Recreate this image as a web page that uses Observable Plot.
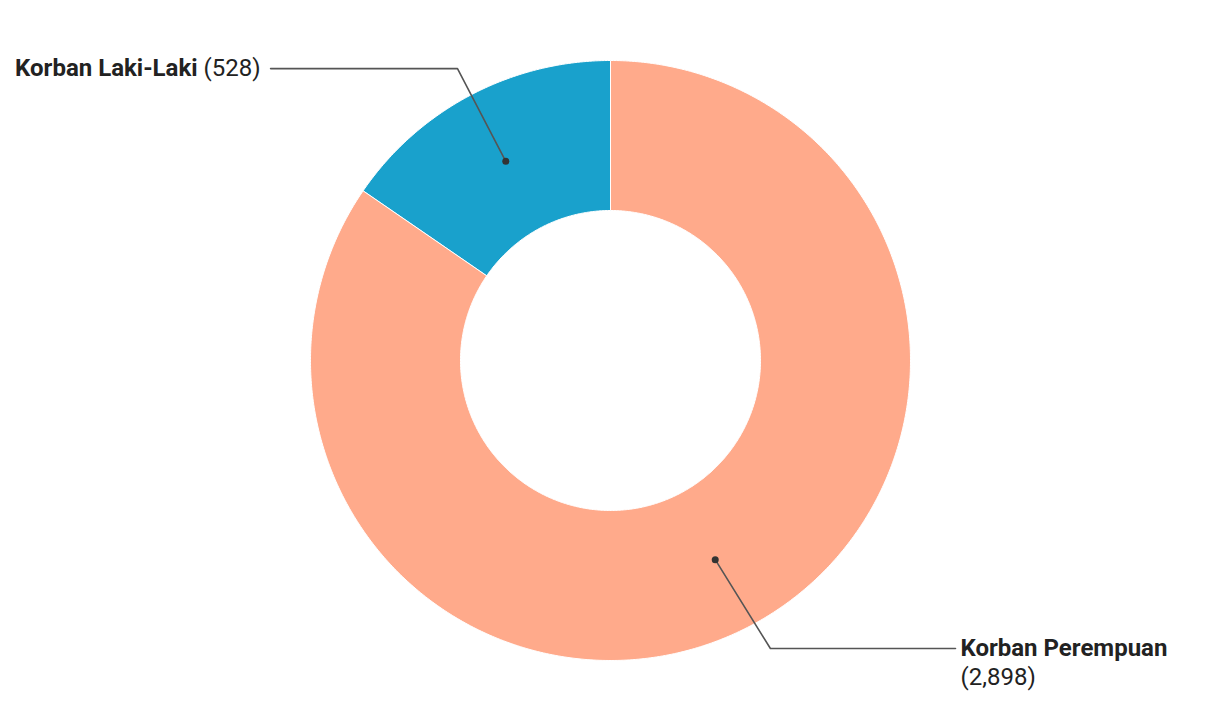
<!DOCTYPE html>
<html>
<head>
<meta charset="utf-8">
<script src="https://cdn.jsdelivr.net/npm/d3@7"></script>
<script src="https://cdn.jsdelivr.net/npm/@observablehq/plot@0.6"></script>
<style>
  html, body { margin: 0; padding: 0; background: #fff; }
  #chart svg { display: block; font-family: Roboto, sans-serif; }
</style>
</head>
<body>
<div id="chart"></div>
<script>
// ---- data ----
const categories = ["Korban Perempuan", "Korban Laki-Laki"];
const values = [2898, 528];
const valueLabels = ["(2,898)", "(528)"];
const colors = ["#FFAA8B", "#19A1CC"];

// ---- geometry (unit-circle coordinates, y up) ----
const innerR = 0.5, outerR = 1, midR = 0.75;
const pie = d3.pie().sort(null).value(d => d.value);
const arcs = pie(categories.map((c, i) => ({category: c, value: values[i], color: colors[i], label: valueLabels[i]})));

const pt = (a, r) => [Math.sin(a) * r, Math.cos(a) * r];
function ring(a0, a1) {
  const n = Math.max(2, Math.ceil((a1 - a0) / 0.01));
  const pts = [];
  for (let k = 0; k <= n; k++) pts.push(pt(a0 + (a1 - a0) * k / n, outerR));
  for (let k = n; k >= 0; k--) pts.push(pt(a0 + (a1 - a0) * k / n, innerR));
  return pts;
}

const fontSize = 24;
const font = `${fontSize}px Roboto`;
const ctx = document.createElement("canvas").getContext("2d");
function textWidth(s, weight) { ctx.font = `${weight} ${font}`; return ctx.measureText(s).width; }

const marks = [];
arcs.forEach(a => {
  marks.push(Plot.line(ring(a.startAngle, a.endAngle), {
    x: d => d[0], y: d => d[1], curve: "linear-closed",
    fill: a.data.color, stroke: "#fff", strokeWidth: 1, strokeLinejoin: "round"
  }));
});

// leader lines (layout: elbow and end points of the callouts)
const layout = {
  "Korban Perempuan": {elbow: [0.533, -0.96], endX: 1.15},
  "Korban Laki-Laki": {elbow: [-0.51, 0.973], endX: -1.133}
};
const leaders = arcs.map(a => {
  const mid = (a.startAngle + a.endAngle) / 2;
  const c = pt(mid, midR);
  const L = layout[a.data.category];
  const e = L.elbow;
  const side = L.endX < 0 ? -1 : 1;
  return {a, c, e, side, end: [L.endX, e[1]]};
});
leaders.forEach(l => {
  marks.push(Plot.line([l.c, l.e, l.end], {x: d => d[0], y: d => d[1], stroke: "#555", strokeWidth: 1.6}));
  marks.push(Plot.dot([l.c], {x: d => d[0], y: d => d[1], r: 3.5, fill: "#333", stroke: null}));
});

// labels
leaders.forEach(l => {
  const name = l.a.data.category, val = l.a.data.label;
  if (l.side < 0) {
    const w = textWidth(" " + val, "400");
    marks.push(Plot.text([l.end], {x: d => d[0], y: d => d[1], text: () => val, textAnchor: "end", dx: -10,
      fontSize, fontWeight: 400, fill: "#222"}));
    marks.push(Plot.text([l.end], {x: d => d[0], y: d => d[1], text: () => name, textAnchor: "end", dx: -10 - w,
      fontSize, fontWeight: 700, fill: "#222"}));
  } else {
    marks.push(Plot.text([l.end], {x: d => d[0], y: d => d[1], text: () => name, textAnchor: "start", dx: 5,
      fontSize, fontWeight: 700, fill: "#222"}));
    marks.push(Plot.text([l.end], {x: d => d[0], y: d => d[1], text: () => val, textAnchor: "start", dx: 5, dy: 29,
      fontSize, fontWeight: 400, fill: "#222"}));
  }
});

const chart = Plot.plot({
  width: 1220,
  height: 704,
  margin: 0,
  style: {fontFamily: "Roboto, sans-serif", background: "#fff"},
  x: {domain: [-1, 1], range: [310, 910], axis: null},
  y: {domain: [-1, 1], range: [660, 60], axis: null},
  marks
});
document.getElementById("chart").appendChild(chart);
</script>
</body>
</html>
